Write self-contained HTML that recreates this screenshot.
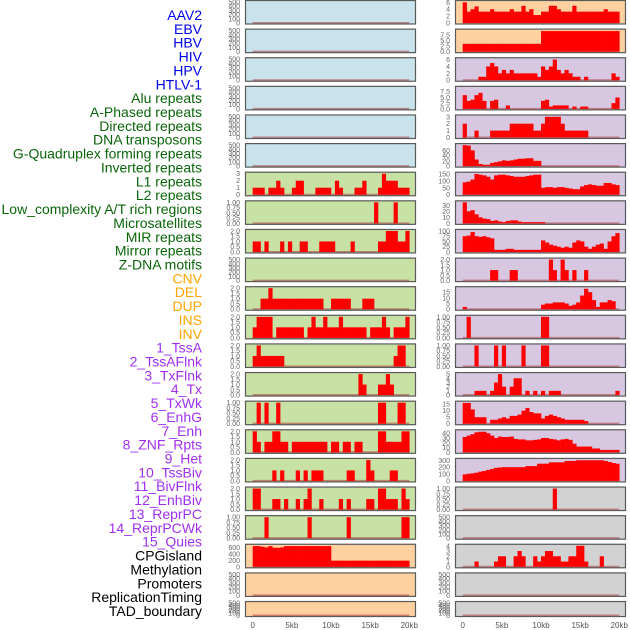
<!DOCTYPE html>
<html><head><meta charset="utf-8"><style>
body{margin:0;background:#fff;width:630px;height:630px;overflow:hidden}
svg{display:block}
.lab{font-family:"Liberation Sans",sans-serif;font-size:14px}
.tk{font-family:"Liberation Sans",sans-serif;font-size:7px;fill:#666}
.xt{font-family:"Liberation Sans",sans-serif;font-size:8px;fill:#555}
</style></head><body>
<svg id="chart" width="630" height="630" xmlns="http://www.w3.org/2000/svg">
<g id="labels"></g>
<g id="panels"></g>
<g id="xaxes"></g>
</svg>
<script>
const featureLabels = ["AAV2","EBV","HBV","HIV","HPV","HTLV-1","Alu repeats","A-Phased repeats","Directed repeats","DNA transposons","G-Quadruplex forming repeats","Inverted repeats","L1 repeats","L2 repeats","Low_complexity A/T rich regions","Microsatellites","MIR repeats","Mirror repeats","Z-DNA motifs","CNV","DEL","DUP","INS","INV","1_TssA","2_TssAFlnk","3_TxFlnk","4_Tx","5_TxWk","6_EnhG","7_Enh","8_ZNF_Rpts","9_Het","10_TssBiv","11_BivFlnk","12_EnhBiv","13_ReprPC","14_ReprPCWk","15_Quies","CPGisland","Methylation","Promoters","ReplicationTiming","TAD_boundary"];
const labelColors = ["#0000ee","#0000ee","#0000ee","#0000ee","#0000ee","#0000ee","#0b650b","#0b650b","#0b650b","#0b650b","#0b650b","#0b650b","#0b650b","#0b650b","#0b650b","#0b650b","#0b650b","#0b650b","#0b650b","#ffa500","#ffa500","#ffa500","#ffa500","#ffa500","#a030f0","#a030f0","#a030f0","#a030f0","#a030f0","#a030f0","#a030f0","#a030f0","#a030f0","#a030f0","#a030f0","#a030f0","#a030f0","#a030f0","#a030f0","#000","#000","#000","#000","#000"];

const xTickValues = [0,5,10,15,20];
const xTickLabels = ["0","5kb","10kb","15kb","20kb"];

const ticksEmpty = ["0","100","200","300","400","500"];
const ticks3 = ["0","1","2","3"];
const ticks1 = ["0.00","0.25","0.50","0.75","1.00"];
const ticks2 = ["0.0","0.5","1.0","1.5","2.0"];
const ticks600 = ["0","200","400","600"];
const ticks6 = ["0","2","4","6"];
const ticks75 = ["0.0","2.5","5.0","7.5"];
const ticks60 = ["0","20","40","60"];
const ticks150 = ["0","50","100","150"];
const ticks30 = ["0","10","20","30"];
const ticks100 = ["0","25","50","75","100"];
const ticks15 = ["0","5","10","15"];
const ticks5 = ["0","1","2","3","4","5"];
const ticks40 = ["0","10","20","30","40"];
const ticks300 = ["0","100","200","300"];
const ticks4 = ["0","1","2","3","4"];

const empty = [];
const leftL1 = [1,1,1,0,1,1,2,1,0,0, 1,2,2,0,0,0,1,1,1,1, 0,2,1,0,0,0,1,1,2,0, 0,0,1,3,2,2,2,1,1,1];
const leftL2 = [0,0,0,0,0,0,0,0,0,0, 0,0,0,0,0,0,0,0,0,0, 0,0,0,0,0,0,0,0,0,0, 0,1,0,0,0,0,1,0,0,0];
const leftLow = [1,1,0,1,0,0,0,1,0,1, 0,0,1,1,0,0,0,1,1,1, 1,0,0,0,0,1,0,0,0,0, 0,0,1,1,2,2,2,1,1,2];
const leftMIR = [0,0,1,1,2,1,1,1,1,1, 1,1,1,1,1,1,1,1,0,0, 1,1,1,1,1,0,0,0,1,1, 1,0,0,0,0,0,0,0,0,0];
const leftMirror = [1,2,2,2,2,0,1,1,1,1, 1,1,1,0,1,2,1,1,2,1, 1,1,2,1,1,1,1,1,1,0, 1,1,1,2,1,0,1,1,1,2];
const leftZDNA = [1,2,1,1,1,1,1,1,0,0, 0,0,0,0,0,0,0,0,0,0, 0,0,0,0,0,0,0,0,0,0, 0,0,0,0,0,0,1,2,2,0];
const leftCNV = [0,0,0,0,0,0,0,0,0,0, 0,0,0,0,0,0,0,0,0,0, 0,0,0,0,0,0,0,2,1,0, 0,0,1,1,2,1,0,0,0,0];
const leftDEL = [0,1,0,1,0,0,1,0,0,0, 0,0,0,0,0,0,0,0,0,0, 0,0,0,0,0,0,0,0,0,0, 0,0,1,1,0,0,0,1,1,0];
const leftDUP = [2,1,0,1,1,2,2,1,1,0, 1,1,1,1,1,1,1,1,1,0, 1,1,0,1,1,0,1,1,0,0, 0,0,2,2,1,1,1,1,2,2];
const leftINS = [0,0,0,0,0,1,0,1,0,0, 0,1,0,1,0,1,1,1,0,0, 0,0,0,0,1,1,0,0,0,2, 1,0,0,0,0,1,1,0,0,0];
const leftINV = [2,2,0,0,0,1,1,0,1,0, 0,1,0,1,2,0,0,1,0,0, 0,0,1,0,1,0,0,0,0,1, 1,0,2,2,1,1,1,0,2,1];
const leftTssA = [0,0,0,1,0,0,0,0,0,0, 0,0,0,0,1,0,0,0,0,0, 0,0,0,0,1,0,0,0,0,0, 0,0,0,0,0,0,0,0,1,1];
const leftCpG = [640,640,620,600,640,590,590,600,640,640, 640,640,640,640,640,640,640,640,640,640, 190,190,190,190,190,190,190,190,190,190, 190,190,190,190,190,190,190,190,190,190];

const rightAAV2 = [6,3.3,4,4.8,3.3,3.3,3.3,4,3.3,3.3, 3.3,3.3,4,3.3,3.3,5,3.3,4,2.3,2.3, 3.3,3.3,5,5,4,3.3,3.3,3.3,5,3.3, 3.3,3.3,3.3,3.3,3.3,3.3,4,3.3,3.3,3.3];
const rightEBV = [3.5,3.5,3.5,3.5,3.5,3.5,3.5,3.5,3.5,3.5, 3.5,3.5,3.5,3.5,3.5,3.5,3.5,3.5,3.5,3.5, 9.2,9.2,9.2,9.2,9.2,9.2,9.2,9.2,9.2,9.2, 9.2,9.2,9.2,9.2,9.2,9.2,9.2,9.2,9.2,9.2];
const rightHBV = [0,0,0,0,1,1,4,5,4,2, 3,2,3,2,2,2,2,2,2,1, 4,3,4,6,3,2,3,2,1,1, 0,1,0,0,0,0,0,0,2,1];
const rightHIV = [6,3.5,4,6,7,3.5,0,3.5,4,0, 0,1.5,0,0,0,0,0,0,0,0, 3.5,4,1,1.5,1.5,1.5,1.5,0,1,0, 1,1,0,0,0,0,0,0,2.5,5];
const rightHPV = [2,0,0,1,0,0,0,1,1,1, 1,1,2,2,2,2,2,2,1,1, 2,3,3,3,3,2,1,1,1,1, 1,1,0,0,0,0,0,0,0,0];
const rightINS5 = [80,78,60,25,8,5,5,12,15,18, 22,20,22,25,28,28,30,30,20,20, 0,0,0,0,0,0,0,0,0,0, 0,0,0,0,0,0,0,0,0,0];
const rightR6 = [90,95,110,150,145,140,130,110,140,145, 145,140,135,130,130,130,135,140,145,145, 50,55,55,50,55,55,50,45,40,40, 60,70,75,70,65,65,85,85,75,70];
const rightR7 = [35,20,22,15,10,8,7,4,5,3, 2,4,5,5,3,2,2,2,2,2, 2,0,0,0,0,0,0,0,0,0, 0,0,0,0,0,0,0,0,0,0];
const rightR8 = [75,78,95,75,72,75,70,65,10,10, 10,15,15,10,10,10,10,10,10,10, 55,45,35,30,25,20,25,20,45,55, 50,25,15,25,35,40,15,50,75,90];
const rightR9 = [0,0,0,0,0,0,0,1,1,0, 0,0,1,1,0,0,0,0,0,0, 0,0,2,1,0,2,1,0,1,0, 0,1,0,0,0,0,0,0,0,0];
const rightR10 = [2,0,0,0,0,0,0,0,0,0, 0,0,0,0,0,0,0,0,0,0, 4,5,5,6,6,6,5,3,4,6, 12,18,15,8,2,6,6,8,7,0];
const rightR11 = [0,1,0,0,0,0,0,0,0,0, 0,0,0,0,0,0,0,0,0,0, 1,1,0,0,0,0,0,0,0,0, 0,0,0,0,0,0,0,0,0,0];
const rightR12 = [0,0,0,1,0,0,0,0,1,0, 1,0,0,0,0,1,0,0,0,0, 1,1,0,0,0,0,0,0,0,0, 0,0,0,0,0,0,0,0,0,0];
const rightR13 = [0,0,0,1,1,1,0,1,3,5, 2,0,2,4,4,0,1,0,1,0, 1,0,1,1,1,0,0,0,0,0, 0,0,0,0,0,0,0,0,0,1];
const rightR14 = [16,16,11,5,5,5,0,3,3,4, 5,4,6,6,7,10,12,9,8,8, 4,6,7,6,5,4,3,3,3,3, 3,2,0,0,0,0,0,0,0,0];
const rightR15 = [32,35,38,42,43,43,40,35,30,33, 32,32,33,28,27,27,25,25,26,27, 30,30,28,27,25,27,28,26,18,12, 12,12,12,8,8,5,5,5,5,5];
const rightR16 = [95,105,110,120,135,145,160,175,190,195, 200,200,200,200,200,200,215,215,215,250, 250,250,270,270,270,270,290,290,290,300, 300,300,300,300,300,300,290,275,260,250];
const rightR17 = [0,0,0,0,0,0,0,0,0,0, 0,0,0,0,0,0,0,0,0,0, 0,0,0,1,0,0,0,0,0,0, 0,0,0,0,0,0,0,0,0,0];
const rightR19 = [0,0,0,1,0,0,0,0,1,2, 2,0,0,2,3,2,0,0,2,1, 2,3,3,2,2,1,1,2,2,4, 4,1,0,0,0,2,0,0,0,0];

const BLUE="#c8e3ec", GREEN="#c8e1a4", PEACH="#ffd1a1", LAV="#d7c7e1", GRAY="#d2d2d2";
const panels = [
 // left column
 {c:0,r:0,bg:BLUE,t:ticksEmpty,m:500,d:empty},
 {c:0,r:1,bg:BLUE,t:ticksEmpty,m:500,d:empty},
 {c:0,r:2,bg:BLUE,t:ticksEmpty,m:500,d:empty},
 {c:0,r:3,bg:BLUE,t:ticksEmpty,m:500,d:empty},
 {c:0,r:4,bg:BLUE,t:ticksEmpty,m:500,d:empty},
 {c:0,r:5,bg:BLUE,t:ticksEmpty,m:500,d:empty},
 {c:0,r:6,bg:GREEN,t:ticks3,m:3,d:leftL1},
 {c:0,r:7,bg:GREEN,t:ticks1,m:1,d:leftL2},
 {c:0,r:8,bg:GREEN,t:ticks2,m:2,d:leftLow},
 {c:0,r:9,bg:GREEN,t:ticksEmpty,m:500,d:empty},
 {c:0,r:10,bg:GREEN,t:ticks2,m:2,d:leftMIR},
 {c:0,r:11,bg:GREEN,t:ticks2,m:2,d:leftMirror},
 {c:0,r:12,bg:GREEN,t:ticks2,m:2,d:leftZDNA},
 {c:0,r:13,bg:GREEN,t:ticks2,m:2,d:leftCNV},
 {c:0,r:14,bg:GREEN,t:ticks1,m:1,d:leftDEL},
 {c:0,r:15,bg:GREEN,t:ticks2,m:2,d:leftDUP},
 {c:0,r:16,bg:GREEN,t:ticks2,m:2,d:leftINS},
 {c:0,r:17,bg:GREEN,t:ticks2,m:2,d:leftINV},
 {c:0,r:18,bg:GREEN,t:ticks1,m:1,d:leftTssA},
 {c:0,r:19,bg:PEACH,t:ticks600,m:650,d:leftCpG},
 {c:0,r:20,bg:PEACH,t:ticksEmpty,m:500,d:empty},
 {c:0,r:21,bg:PEACH,t:ticksEmpty,m:500,d:empty},
 // right column
 {c:1,r:0,bg:PEACH,t:ticks6,m:6.1,d:rightAAV2},
 {c:1,r:1,bg:PEACH,t:ticks75,m:9.4,d:rightEBV},
 {c:1,r:2,bg:LAV,t:ticks6,m:6.1,d:rightHBV},
 {c:1,r:3,bg:LAV,t:ticks75,m:9.2,d:rightHIV},
 {c:1,r:4,bg:LAV,t:ticks3,m:3.05,d:rightHPV},
 {c:1,r:5,bg:LAV,t:ticks60,m:80,d:rightINS5},
 {c:1,r:6,bg:LAV,t:ticks150,m:152,d:rightR6},
 {c:1,r:7,bg:LAV,t:ticks30,m:35,d:rightR7},
 {c:1,r:8,bg:LAV,t:ticks100,m:100,d:rightR8},
 {c:1,r:9,bg:LAV,t:ticks2,m:2,d:rightR9},
 {c:1,r:10,bg:LAV,t:ticks15,m:18.5,d:rightR10},
 {c:1,r:11,bg:LAV,t:ticks1,m:1,d:rightR11},
 {c:1,r:12,bg:LAV,t:ticks1,m:1,d:rightR12},
 {c:1,r:13,bg:LAV,t:ticks5,m:5,d:rightR13},
 {c:1,r:14,bg:LAV,t:ticks15,m:16.2,d:rightR14},
 {c:1,r:15,bg:LAV,t:ticks40,m:44,d:rightR15},
 {c:1,r:16,bg:LAV,t:ticks300,m:305,d:rightR16},
 {c:1,r:17,bg:GRAY,t:ticks1,m:1,d:rightR17},
 {c:1,r:18,bg:GRAY,t:ticksEmpty,m:500,d:empty},
 {c:1,r:19,bg:GRAY,t:ticks4,m:4,d:rightR19},
 {c:1,r:20,bg:GRAY,t:ticksEmpty,m:500,d:empty},
 {c:1,r:21,bg:GRAY,t:ticksEmpty,m:500,d:empty}
];

const NS="http://www.w3.org/2000/svg";
function mk(tag, attrs, parent){
  const e=document.createElementNS(NS,tag);
  for(const k in attrs) e.setAttribute(k,attrs[k]);
  parent.appendChild(e); return e;
}
const colX0=[252.7,462.7], colBox=[245,455], BOXW=171, KBPX=7.83, BINKB=0.5;
function xScale(c,kb){return colX0[c]+kb*KBPX;}
function rowTop(r){return r*28.62;}
function rowH(r){return r===21?16:24.5;}
function yScale(r,m,v){const t=rowTop(r),h=rowH(r);return t+h-1.5-(v/m)*(h-3.5);}

const lg=document.getElementById('labels');
featureLabels.forEach((s,i)=>{
  const t=mk('text',{x:202,y:15+i*13.86+5,'text-anchor':'end',class:'lab',fill:labelColors[i]},lg);
  
  
  t.textContent=s;
});

const pg=document.getElementById('panels');
panels.forEach(p=>{
  const g=mk('g',{},pg);
  
  
  const top=rowTop(p.r),h=rowH(p.r),bx=colBox[p.c];
  const bgr=mk('rect',{x:bx,y:top,width:BOXW,height:h,fill:p.bg},g);
  
  
  const base=mk('line',{x1:xScale(p.c,0),x2:xScale(p.c,20),y1:yScale(p.r,p.m,0),y2:yScale(p.r,p.m,0),stroke:'#b03a3a','stroke-opacity':0.55,'stroke-width':2},g);
  
  
  p.d.forEach((v,i)=>{
    if(!v) return;
    const x1=xScale(p.c,i*BINKB),x2=xScale(p.c,(i+1)*BINKB);
    const y0=yScale(p.r,p.m,0),y1=yScale(p.r,p.m,v);
    const b=mk('rect',{x:x1,y:y1,width:x2-x1+0.3,height:y0-y1,fill:'#ff0000'},g);
    
    
  });
  const br=mk('rect',{x:bx+0.5,y:top+0.5,width:BOXW-1,height:h-1,fill:'none',stroke:'#5a5a5a','stroke-width':1.2},g);
  
  
  p.t.forEach(s=>{
    const v=parseFloat(s);
    const tx=mk('text',{x:bx-5,y:yScale(p.r,p.m,v)+2.5,'text-anchor':'end',class:'tk'},g);
    
    
    tx.textContent=s;
  });
});

const xg=document.getElementById('xaxes');
[0,1].forEach(c=>{
  xTickValues.forEach((v,i)=>{
    const t=mk('text',{x:xScale(c,v),y:628,'text-anchor':'middle',class:'xt'},xg);
    
    
    t.textContent=xTickLabels[i];
  });
});
</script>
</body></html>
